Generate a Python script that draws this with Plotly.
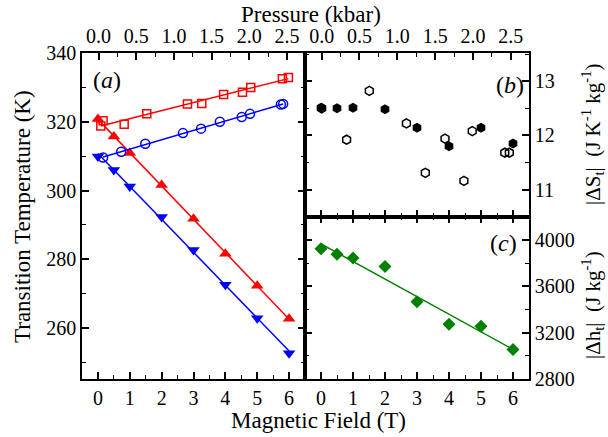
import numpy as np
import plotly.graph_objects as go

# ---- data ----
field_T = [0, 0.5, 1, 2, 3, 4, 5, 6]
Tt_up_field = [320.8, 315.7, 310.9, 301.6, 291.8, 281.6, 272.3, 262.7]
Tt_down_field = [309.9, 306.0, 301.2, 292.3, 282.7, 272.6, 262.9, 252.7]

press_sq = [0.03, 0.06, 0.34, 0.64, 1.18, 1.37, 1.66, 1.91, 2.02, 2.44, 2.52]
Tt_sq = [318.8, 320.3, 319.3, 322.3, 325.2, 325.3, 327.9, 328.6, 330.0, 332.5, 332.9]

press_ci = [0.06, 0.30, 0.62, 1.12, 1.36, 1.61, 1.90, 2.01, 2.42, 2.45]
Tt_ci = [309.6, 311.3, 313.6, 316.7, 318.0, 320.0, 321.4, 322.3, 325.0, 325.2]

dS_field = [12.51, 12.50, 12.51, 12.48, 12.14, 11.80, 12.14, 11.85]
press_hex = [0.0, 0.33, 0.63, 1.12, 1.37, 1.63, 1.88, 1.99, 2.42, 2.48]
dS_press = [12.5, 11.92, 12.82, 12.22, 11.31, 11.94, 11.16, 12.08, 11.68, 11.68]

dh_field = [3923, 3877, 3843, 3771, 3466, 3272, 3255, 3055]

field_ticks = [0, 1, 2, 3, 4, 5, 6]
press_ticks = [0.0, 0.5, 1.0, 1.5, 2.0, 2.5]

# ---- geometry ----
W, H = 608, 437
L, R, T, B = 82, 529, 53, 379
PW, PH = R - L, B - T
def px(x):
    return (x - L) / PW
def py(y):
    return (B - y) / PH
xa = px(305)
yb = py(216.7)

FONT = "Liberation Serif, Times New Roman, serif"
RED, BLUE, GREEN, BLK = "#ff0000", "#0000ff", "#008000", "#000000"

def fitline(x, y):
    k, b = np.polyfit(x, y, 1)
    xs = np.array([min(x), max(x)])
    return xs, k * xs + b

fig = go.Figure()

# panel (a)
xs, ys = fitline(press_sq, Tt_sq)
fig.add_trace(go.Scatter(x=xs, y=ys, mode="lines", line=dict(color=RED, width=1.5), xaxis="x2", yaxis="y"))
fig.add_trace(go.Scatter(x=press_sq, y=Tt_sq, mode="markers",
                         marker=dict(symbol="square-open", size=8, color=RED, line=dict(width=1.5)),
                         xaxis="x2", yaxis="y"))
xs, ys = fitline(press_ci, Tt_ci)
fig.add_trace(go.Scatter(x=xs, y=ys, mode="lines", line=dict(color=BLUE, width=1.5), xaxis="x2", yaxis="y"))
fig.add_trace(go.Scatter(x=press_ci, y=Tt_ci, mode="markers",
                         marker=dict(symbol="circle-open", size=9, color=BLUE, line=dict(width=1.5)),
                         xaxis="x2", yaxis="y"))
xs, ys = fitline(field_T, Tt_up_field)
fig.add_trace(go.Scatter(x=xs, y=ys, mode="lines", line=dict(color=RED, width=1.5), xaxis="x", yaxis="y"))
fig.add_trace(go.Scatter(x=field_T, y=Tt_up_field, mode="markers",
                         marker=dict(symbol="triangle-up", size=11, color=RED),
                         xaxis="x", yaxis="y"))
xs, ys = fitline(field_T, Tt_down_field)
fig.add_trace(go.Scatter(x=xs, y=ys, mode="lines", line=dict(color=BLUE, width=1.5), xaxis="x", yaxis="y"))
fig.add_trace(go.Scatter(x=field_T, y=Tt_down_field, mode="markers",
                         marker=dict(symbol="triangle-down", size=11, color=BLUE),
                         xaxis="x", yaxis="y"))

# panel (b)
fig.add_trace(go.Scatter(x=press_hex, y=dS_press, mode="markers",
                         marker=dict(symbol="hexagon-open", size=9, color=BLK, line=dict(width=1.5)),
                         xaxis="x3", yaxis="y3"))
fig.add_trace(go.Scatter(x=field_T, y=dS_field, mode="markers",
                         marker=dict(symbol="hexagon", size=10, color=BLK),
                         xaxis="x4", yaxis="y3"))

# panel (c)
xs, ys = fitline(field_T, dh_field)
fig.add_trace(go.Scatter(x=xs, y=ys, mode="lines", line=dict(color=GREEN, width=1.5), xaxis="x5", yaxis="y4"))
fig.add_trace(go.Scatter(x=field_T, y=dh_field, mode="markers",
                         marker=dict(symbol="diamond", size=10, color=GREEN),
                         xaxis="x5", yaxis="y4"))

ax = dict(showline=True, linewidth=1.5, linecolor=BLK, ticks="inside", ticklen=7, tickwidth=1.5,
          tickcolor=BLK, showgrid=False, zeroline=False, automargin=False,
          tickfont=dict(family=FONT, size=20, color=BLK))
minor_f = dict(dtick=0.5, ticks="inside", ticklen=4, tickwidth=1.2, tickcolor=BLK, showgrid=False)
minor_p = dict(dtick=0.25, ticks="inside", ticklen=4, tickwidth=1.2, tickcolor=BLK, showgrid=False)

fig.update_layout(
    width=W, height=H,
    margin=dict(l=L, r=W - R, t=T, b=H - B, pad=0, autoexpand=False),
    paper_bgcolor="white", plot_bgcolor="white",
    showlegend=False,
    font=dict(family=FONT, size=20, color=BLK),
    xaxis=dict(ax, domain=[0, xa], anchor="y", range=[-0.5, 6.5], tickvals=field_ticks,
               minor=minor_f),
    xaxis2=dict(ax, domain=[0, xa], anchor="y", overlaying="x", side="top", range=[-0.22, 2.74],
                tickvals=press_ticks, tickformat=".1f", minor=minor_p),
    yaxis=dict(ax, domain=[0, 1], anchor="x", range=[245.2, 340], tickvals=[260, 280, 300, 320, 340],
               minor=dict(dtick=10, ticks="inside", ticklen=4, tickwidth=1.2, tickcolor=BLK, showgrid=False),
               mirror="ticks"),
    xaxis4=dict(ax, domain=[xa, 1], anchor="y3", range=[-0.5, 6.5], tickvals=field_ticks,
                showticklabels=False, minor=minor_f),
    xaxis3=dict(ax, domain=[xa, 1], anchor="y3", overlaying="x4", side="top", range=[-0.22, 2.74],
                tickvals=press_ticks, tickformat=".1f", minor=minor_p),
    yaxis3=dict(ax, domain=[yb, 1], anchor="x4", side="right", range=[10.5, 13.52], tickvals=[11, 12, 13],
                minor=dict(dtick=0.5, ticks="inside", ticklen=4, tickwidth=1.2, tickcolor=BLK, showgrid=False),
                mirror="ticks"),
    xaxis5=dict(ax, domain=[xa, 1], anchor="y4", range=[-0.5, 6.5], tickvals=field_ticks,
                minor=minor_f, mirror="ticks"),
    yaxis4=dict(ax, domain=[0, yb], anchor="x5", side="right", range=[2800, 4200],
                tickvals=[2800, 3200, 3600, 4000],
                minor=dict(dtick=200, ticks="inside", ticklen=4, tickwidth=1.2, tickcolor=BLK, showgrid=False),
                mirror="ticks"),
)

def ann(text, x, y, size=23, angle=0, xanchor="center", yanchor="middle"):
    fig.add_annotation(text=text, x=px(x), y=py(y), xref="paper", yref="paper", showarrow=False,
                       textangle=angle, xanchor=xanchor, yanchor=yanchor,
                       font=dict(family=FONT, size=size, color=BLK))

ann("Transition Temperature (K)", 22, 217, angle=-90)
ann("Magnetic Field (T)", 318, 420)
ann("Pressure (kbar)", 311, 14)
ann("|ΔS<sub>t</sub>|  (J K<sup>-1</sup> kg<sup>-1</sup>)", 592, 134, size=21, angle=-90)
ann("|Δh<sub>t</sub>|  (J kg<sup>-1</sup>)", 592, 305, size=21, angle=-90)
ann("(<i>a</i>)", 107, 80, size=24)
ann("(<i>b</i>)", 526, 85, size=24, xanchor="right")
ann("(<i>c</i>)", 519, 243, size=24, xanchor="right")

fig.write_html("out.html", config={"displayModeBar": False},
               post_script="document.body.style.margin='0';document.body.style.padding='0';")
